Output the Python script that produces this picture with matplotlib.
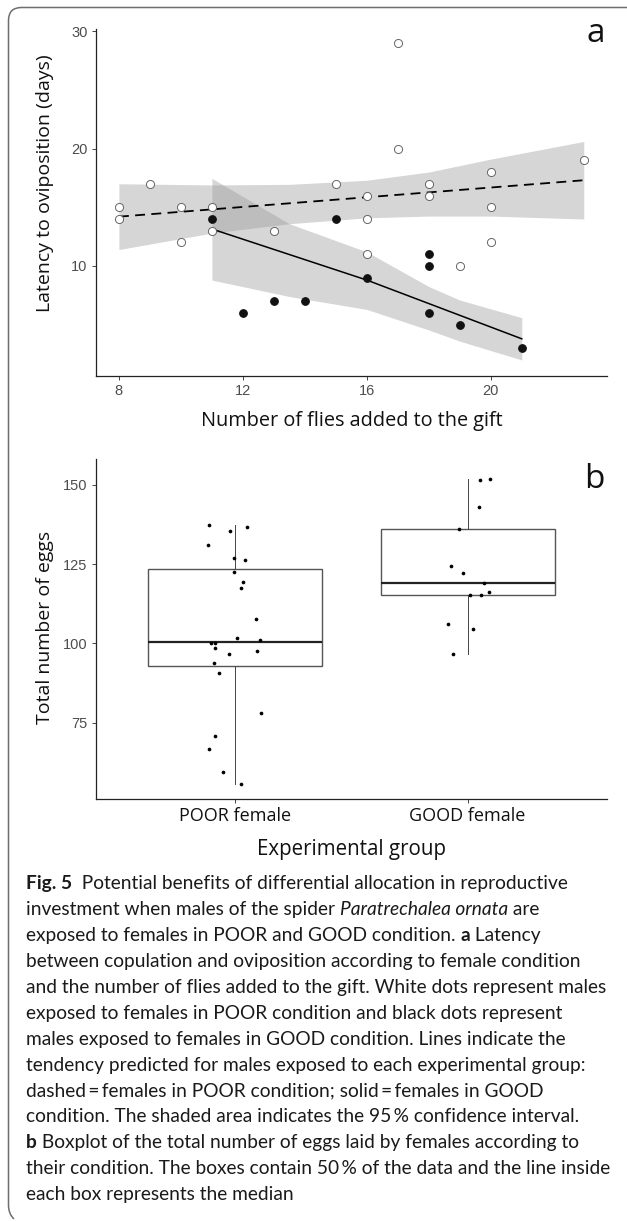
import matplotlib
matplotlib.use("Agg")
import matplotlib.pyplot as plt
import numpy as np
from matplotlib.patches import PathPatch
from matplotlib.path import Path

# ---------------- data: panel a ----------------
poor_flies = [8, 8, 9, 10, 10, 11, 11, 13, 15, 16, 16, 16, 17, 17, 18, 18, 19, 20, 20, 20, 23]
poor_latency = [15, 14, 17, 15, 12, 15, 13, 13, 17, 16, 14, 11, 29, 20, 17, 16, 10, 18, 15, 12, 19]
good_flies = [11, 12, 13, 14, 15, 16, 18, 18, 18, 19, 21]
good_latency = [14, 6, 7, 7, 14, 9, 11, 10, 6, 5, 3]

# predicted trends
poor_fit_x = [8, 23]
poor_fit_y = [14.2, 17.3]
good_fit_x = [11, 16, 21]
good_fit_y = [13.15, 8.8, 3.8]

# 95% confidence bands
poor_band_x = [8, 11, 13.5, 16, 18, 20, 23]
poor_band_lo = [11.4, 12.8, 13.6, 14.1, 14.25, 14.25, 14.0]
poor_band_hi = [17.0, 16.9, 16.95, 17.3, 18.0, 19.1, 20.6]
good_band_x = [11, 13.5, 16, 18, 19, 21]
good_band_lo = [8.8, 7.4, 6.3, 4.55, 3.6, 2.0]
good_band_hi = [17.46, 13.6, 11.2, 8.25, 7.1, 5.6]

# ---------------- data: panel b ----------------
groups = ["POOR female", "GOOD female"]
poor_eggs = [137.3, 135.3, 136.8, 131.1, 127.0, 126.2, 122.6, 119.5, 117.6, 107.6,
             101.6, 101.0, 100.1, 100.0, 98.5, 96.6, 97.7, 93.8, 90.6, 78.0,
             71.0, 66.6, 59.4, 55.8]
poor_jitter = [-0.113, -0.021, 0.052, -0.119, -0.007, 0.040, -0.007, 0.033, 0.026, 0.088,
               0.007, 0.108, -0.105, -0.089, -0.088, -0.026, 0.091, -0.093, -0.070, 0.110,
               -0.086, -0.112, -0.052, 0.026]
good_eggs = [151.6, 151.8, 142.9, 136.0, 124.3, 122.3, 119.0, 116.1, 115.2, 115.2,
             106.2, 104.6, 96.7]
good_jitter = [0.053, 0.095, 0.050, -0.038, -0.072, -0.022, 0.070, 0.093, 0.010, 0.057,
               -0.084, 0.024, -0.065]

# ---------------- layout ----------------
W, H = 627, 1221
fig = plt.figure(figsize=(W / 100, H / 100), dpi=100)
fig.patch.set_facecolor("white")

def fx(px):
    return px / W

def fy(py):
    return 1 - py / H

TITLE_FONT = ["Open Sans", "DejaVu Sans"]
TICK_FONT = ["Liberation Sans", "DejaVu Sans"]
tick_color = "#4d4d4d"

def style_axes(ax):
    for s in ["top", "right"]:
        ax.spines[s].set_visible(False)
    for s in ["left", "bottom"]:
        ax.spines[s].set_color("#222222")
        ax.spines[s].set_linewidth(0.9)
    ax.tick_params(axis="both", direction="out", length=3, width=0.7,
                   color="#444444", labelcolor=tick_color, labelsize=10.5, pad=3)
    for lab in ax.get_xticklabels() + ax.get_yticklabels():
        lab.set_family(TICK_FONT)

# ---------------- panel a ----------------
a_top, a_bot = 29.3, 375.7
axa = fig.add_axes([fx(96), fy(a_bot), fx(607) - fx(96), fy(a_top) - fy(a_bot)])
axa.fill_between(poor_band_x, poor_band_lo, poor_band_hi, color="#999999", alpha=0.4, lw=0)
axa.fill_between(good_band_x, good_band_lo, good_band_hi, color="#999999", alpha=0.4, lw=0)
axa.plot(poor_fit_x, poor_fit_y, color="black", lw=1.3, dashes=(5.5, 3.5))
axa.plot(good_fit_x, good_fit_y, color="black", lw=1.1)
axa.scatter(poor_flies, poor_latency, s=34, facecolor="white", edgecolor="#666666", linewidth=0.7, zorder=3)
axa.scatter(good_flies, good_latency, s=30, facecolor="#111111", edgecolor="#111111", linewidth=0.8, zorder=3)
axa.set_xlim(7.26, 23.75)
axa.set_ylim(0.66, 30.15)
axa.set_xticks([8, 12, 16, 20])
axa.set_yticks([10, 20, 30])
style_axes(axa)
axa.set_xlabel("Number of flies added to the gift", family=TITLE_FONT, fontsize=14.3, color="#111111", labelpad=9)
axa.set_ylabel("Latency to oviposition (days)", family=TITLE_FONT, fontsize=14.0, color="#111111")
axa.yaxis.set_label_coords((45 - 96) / (607 - 96), (a_bot - 183) / (a_bot - a_top))
axa.yaxis.label.set_verticalalignment("center")
fig.text(fx(596), fy(33), "a", family=TITLE_FONT, fontsize=24, ha="center", va="center", color="#111111")

# ---------------- panel b ----------------
b_top, b_bot = 459.3, 799
axb = fig.add_axes([fx(96), fy(b_bot), fx(607) - fx(96), fy(b_top) - fy(b_bot)])
bp = axb.boxplot([poor_eggs, good_eggs], positions=[1, 2], widths=0.75, whis=1.5,
                 patch_artist=True, showfliers=False, showcaps=False,
                 boxprops=dict(facecolor="white", edgecolor="#555555", linewidth=1.0),
                 medianprops=dict(color="#222222", linewidth=1.6),
                 whiskerprops=dict(color="#444444", linewidth=0.7))
axb.scatter(np.array(poor_jitter) + 1, poor_eggs, s=7, color="black", zorder=3, lw=0)
axb.scatter(np.array(good_jitter) + 2, good_eggs, s=7, color="black", zorder=3, lw=0)
axb.set_xlim(0.4, 2.6)
axb.set_ylim(51, 158)
axb.set_xticks([1, 2])
axb.set_xticklabels(groups)
axb.set_yticks([75, 100, 125, 150])
style_axes(axb)
for lab in axb.get_xticklabels():
    lab.set_family(TITLE_FONT)
    lab.set_fontsize(13)
    lab.set_color("#111111")
axb.set_xlabel("Experimental group", family=TITLE_FONT, fontsize=14.8, color="#111111", labelpad=10)
axb.set_ylabel("Total number of eggs", family=TITLE_FONT, fontsize=14.0, color="#111111")
axb.yaxis.set_label_coords((45 - 96) / (607 - 96), (b_bot - 627) / (b_bot - b_top))
axb.yaxis.label.set_verticalalignment("center")
fig.text(fx(594), fy(480), "b", family=TITLE_FONT, fontsize=24, ha="center", va="center", color="#111111")

# ---------------- caption ----------------
CAP_FONT = ["Lato", "DejaVu Sans"]
renderer = fig.canvas.get_renderer()

def text_width(s, size, **kw):
    t1 = fig.text(0, 0, "|" + s + "|", fontsize=size, family=CAP_FONT, **kw)
    t2 = fig.text(0, 0, "||", fontsize=size, family=CAP_FONT, **kw)
    w = t1.get_window_extent(renderer).width - t2.get_window_extent(renderer).width
    t1.remove(); t2.remove()
    return w

B = dict(weight="bold")
I = dict(style="italic")
N = dict()
caption = [
    [("Fig. 5", B), ("  Potential benefits of differential allocation in reproductive", N)],
    [("investment when males of the spider ", N), ("Paratrechalea ornata", I), (" are", N)],
    [("exposed to females in POOR and GOOD condition. ", N), ("a", B), (" Latency", N)],
    [("between copulation and oviposition according to female condition", N)],
    [("and the number of flies added to the gift. White dots represent males", N)],
    [("exposed to females in POOR condition and black dots represent", N)],
    [("males exposed to females in GOOD condition. Lines indicate the", N)],
    [("tendency predicted for males exposed to each experimental group:", N)],
    [("dashed\u2009=\u2009females in POOR condition; solid\u2009=\u2009females in GOOD", N)],
    [("condition. The shaded area indicates the 95\u2009% confidence interval.", N)],
    [("b", B), (" Boxplot of the total number of eggs laid by females according to", N)],
    [("their condition. The boxes contain 50\u2009% of the data and the line inside", N)],
    [("each box represents the median", N)],
]

# fit font size so the reference line width (about 586 px) is matched
ref_line = caption[4][0][0]
base = 14.0
w0 = text_width(ref_line, base)
cap_size = base * 584.0 / w0

x0 = 26.0
base0 = 889.3
step = 25.9
for i, runs in enumerate(caption):
    x = x0
    for s, kw in runs:
        fig.text(fx(x), fy(base0 + i * step), s, fontsize=cap_size, family=CAP_FONT,
                 va="baseline", ha="left", color="#1a1a1a", **kw)
        x += text_width(s, cap_size, **kw)

# ---------------- frame ----------------
r = 13
verts = [(W + 5, 7.5), (8.5 + r, 7.5), (8.5, 7.5), (8.5, 7.5 + r), (8.5, 1205), (8.5, 1214), (14, 1219)]
codes = [Path.MOVETO, Path.LINETO, Path.CURVE3, Path.CURVE3, Path.LINETO, Path.CURVE3, Path.CURVE3]
verts_fig = [(fx(vx), fy(vy)) for vx, vy in verts]
frame = PathPatch(Path(verts_fig, codes), transform=fig.transFigure, fill=False,
                  edgecolor="#6e6e6e", linewidth=1.1)
fig.add_artist(frame)

fig.savefig("out.png", dpi=100, facecolor="white")
